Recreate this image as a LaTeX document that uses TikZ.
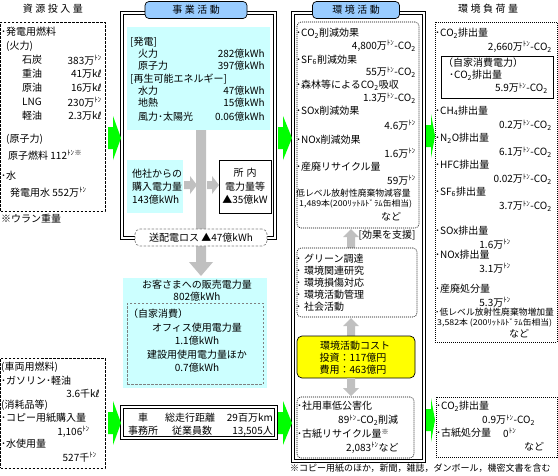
\documentclass[tikz,border=0pt]{standalone}
\usepackage{fontspec}
\setmainfont{Noto Sans CJK JP}
\newfontfamily\dvf{DejaVu Sans}
\newfontfamily\jpw[LetterSpace=25]{Noto Sans CJK JP}
\usetikzlibrary{fit}
\definecolor{lcyan}{HTML}{CCFFFF}
\definecolor{tabblue}{HTML}{99CCFF}
\definecolor{ggreen}{HTML}{00FF00}
\definecolor{garrow}{HTML}{C0C0C0}
\definecolor{ylw}{HTML}{FFFF00}
\newcommand\fs{\fontsize{10}{12}\selectfont}
\newcommand\fsm{\fontsize{9}{11}\selectfont}
\newcommand\fss{\fontsize{8.8}{10}\selectfont}
\newcommand\fsx{\fontsize{8}{9}\selectfont}
\newcommand\wide[1]{\scalebox{1.1}[1]{#1}}
\newcommand\tn{\textsuperscript{ﾄﾝ}}
\newcommand\kl{k{\dvf ℓ}}
\newcommand\cotwo{CO\textsubscript{2}}
\newcommand\garw[3]{\fill[ggreen] (#1,#3-11) -- (#1+5,#3-11) -- (#1+5,#3-22) -- (#2,#3) -- (#1+5,#3+22) -- (#1+5,#3+11) -- (#1,#3+11) -- cycle;}
\tikzset{
  t/.style={inner sep=0pt, font=\fs},
  tw/.style={t, anchor=west},
  te/.style={t, anchor=east},
  dbl/.style={draw=black, double=white, double distance=2pt, line width=0.6pt, inner sep=0pt},
  tab/.style={draw=black, line width=0.7pt, rounded corners=4pt, fill=tabblue, inner sep=0pt, font=\jpw\fs},
  lbox/.style={draw=black, line width=0.7pt, dash pattern=on 2.5pt off 1.5pt, inner sep=0pt},
  rbox/.style={draw=black, line width=0.6pt, dash pattern=on 1pt off 1pt, inner sep=0pt},
  ebox/.style={draw=black, line width=0.6pt, dash pattern=on 1pt off 1pt, rounded corners=4pt, inner sep=0pt},
  cbox/.style={fill=lcyan, inner sep=0pt},
  gdash/.style={draw=gray, line width=0.7pt, dash pattern=on 2.5pt off 1.5pt, inner sep=0pt},
  sbox/.style={draw=black, line width=0.7pt, inner sep=0pt},
  ybox/.style={draw=black, line width=0.7pt, fill=ylw, rounded corners=5pt, inner sep=0pt},
  garr/.style={fill=garrow},
}
\begin{document}
\begin{tikzpicture}[x=1pt,y=-1pt]
\useasboundingbox (0,0) rectangle (558,475);
% ================= left column =================
\node[t] (ttlA) at (53,9) {\jpw 資源投入量};
\node[lbox, fit={(0.5,22) (105,211)}] (lbA) {};
\node[tw] (a1) at (1,32) {･発電用燃料};
\node[tw] (a2) at (6,46) {(火力)};
\node[tw] (a3) at (22,60) {石炭};   \node[te] (a3v) at (102,60) {383万\tn};
\node[tw] (a4) at (22,74) {重油};   \node[te] (a4v) at (102,74) {41万\kl};
\node[tw] (a5) at (22,88) {原油};   \node[te] (a5v) at (102,88) {16万\kl};
\node[tw] (a6) at (22,102) {LNG};   \node[te] (a6v) at (102,102) {230万\tn};
\node[tw] (a7) at (22,116) {軽油};  \node[te] (a7v) at (102,116) {2.3万\kl};
\node[tw] (a8) at (6,139) {(原子力)};
\node[tw] (a9) at (8,155) {原子燃料 112\tn\textsuperscript{※}};
\node[tw] (a10) at (1,176) {･水};
\node[tw] (a11) at (10,192) {発電用水 552万\tn};
\node[tw] (a12) at (1,219) {※ウラン重量};
\node[lbox, fit={(0.5,358) (105,468)}] (lbB) {};
\node[tw] (b1) at (1,367) {(車両用燃料)};
\node[tw] (b2) at (1,381) {･ガソリン･軽油};
\node[te] (b3) at (100,394) {3.6千\kl};
\node[tw] (b4) at (1,405) {(消耗品等)};
\node[tw] (b5) at (1,418) {･コピー用紙購入量};
\node[te] (b6) at (90,432) {1,106\tn};
\node[tw] (b7) at (1,444) {･水使用量};
\node[te] (b8) at (97,457) {527千\tn};
% ================= business column =================
\node[dbl, fit={(122,13) (275,238)}] (frA) {};
\node[tab, minimum width=102pt, minimum height=17pt] (tabA) at (196,10) {事業活動};
\node[cbox, fit={(127,27) (270,130)}] (gen) {};
\node[tw] (g1) at (130,42) {[発電]};
\node[tw] (g2) at (138,54) {火力};     \node[te] (g2v) at (265,54) {282億kWh};
\node[tw] (g3) at (138,66) {原子力};   \node[te] (g3v) at (265,66) {397億kWh};
\node[tw] (g4) at (130,79) {[再生可能エネルギー]};
\node[tw] (g5) at (138,91) {水力};     \node[te] (g5v) at (265,91) {47億kWh};
\node[tw] (g6) at (138,103) {地熱};    \node[te] (g6v) at (265,103) {15億kWh};
\node[tw] (g7) at (138,117) {風力･太陽光}; \node[te] (g7v) at (265,117) {0.06億kWh};
\fill[garr] (196,130) -- (206,130) -- (206,262) -- (213,262) -- (201,276) -- (189,262) -- (196,262) -- cycle;
\node[cbox, fit={(127,160) (183,213)}] (buy) {};
\node[tw] (p1) at (132,174) {他社からの};
\node[tw] (p2) at (132,187) {購入電力量};
\node[tw] (p3) at (132,200) {143億kWh};
\fill[garr] (184,181) -- (190,181) -- (190,176) -- (197,185) -- (190,194) -- (190,189) -- (184,189) -- cycle;
\fill[garr] (207,181) -- (212,181) -- (212,176) -- (219,185) -- (212,194) -- (212,189) -- (207,189) -- cycle;
\node[sbox, fit={(219,160) (271,213)}] (own) {};
\node[t] (o1) at (245,173) {所\hspace{3pt}内};
\node[t] (o2) at (245,187) {電力量等};
\node[t] (o3) at (245,200) {▲35億kW};
\node[gdash, fill=white, rounded corners=5pt, minimum width=132pt, minimum height=17pt] (loss) at (201,237.5) {};
\node[t] (lossT) at (201,237.5) {送配電ロス ▲47億kWh};
\node[cbox, fit={(123,278) (267,388)}] (sale) {};
\node[t] (s1) at (197,285) {お客さまへの販売電力量};
\node[t] (s2) at (197,297) {802億kWh};
\node[gdash, fit={(127,303) (263,384)}] (selfc) {};
\node[tw] (s3) at (128,314) {（自家消費）};
\node[t] (s4) at (197,328) {オフィス使用電力量};
\node[t] (s5) at (197,341) {1.1億kWh};
\node[t] (s6) at (197,355) {建設用使用電力量ほか};
\node[t] (s7) at (197,368) {0.7億kWh};
\node[dbl, fit={(122,407) (276,438)}] (car) {};
\node[t] (c1) at (143,418) {車};
\node[tw] (c2) at (165,418) {総走行距離};
\node[te] (c3) at (273,418) {29百万km};
\node[tw] (c4) at (128,431) {事務所};
\node[tw] (c5) at (172,431) {従業員数};
\node[te] (c6) at (273,431) {13,505人};
% ================= environment activity column =================
\node[dbl, fit={(293,13) (424,461)}] (frB) {};
\node[tab, minimum width=87pt, minimum height=17pt] (tabB) at (356,10) {環境活動};
\node[ebox, fit={(297,22) (419,228)}] (eff) {};
\node[tw] (e1) at (296,33) {･\cotwo 削減効果};
\node[te] (e2) at (416,46) {4,800万\tn-\cotwo};
\node[tw] (e3) at (296,60) {･SF\textsubscript{6}削減効果};
\node[te] (e4) at (416,72) {55万\tn-\cotwo};
\node[tw] (e5) at (296,85) {･森林等による\cotwo 吸収};
\node[te] (e6) at (416,98) {1.3万\tn-\cotwo};
\node[tw] (e7) at (296,111) {･SOx削減効果};
\node[te] (e8) at (416,125) {4.6万\tn};
\node[tw] (e9) at (296,140) {･NOx削減効果};
\node[te] (e10) at (416,153) {1.6万\tn};
\node[tw] (e11) at (296,167) {･産廃リサイクル量};
\node[te] (e12) at (416,180) {59万\tn};
\node[tw, font=\fss] (e13) at (296,193) {低レベル放射性廃棄物減容量};
\node[tw, font=\fsx] (e14) at (299,204) {\wide{1,489本(200ﾘｯﾄﾙﾄﾞﾗﾑ缶相当)}};
\node[t] (e15) at (391,217) {など};
\node[t] (e16) at (387,235) {[効果を支援]};
\fill[garr] (347,248) -- (347,237) -- (343,237) -- (351,229) -- (359,237) -- (355,237) -- (355,248) -- cycle;
\node[ebox, fit={(297,248) (417,317)}] (act) {};
\node[tw] (v1) at (296,259) {･\hspace{3pt}グリーン調達};
\node[tw] (v2) at (296,271) {･\hspace{3pt}環境関連研究};
\node[tw] (v3) at (296,283) {･\hspace{3pt}環境損傷対応};
\node[tw] (v4) at (296,295) {･\hspace{3pt}環境活動管理};
\node[tw] (v5) at (296,307) {･\hspace{3pt}社会活動};
\fill[garr] (347,336) -- (347,326) -- (343,326) -- (351,318) -- (359,326) -- (355,326) -- (355,336) -- cycle;
\node[ybox, fit={(297,336) (415,378)}] (cost) {};
\node[t] (y1) at (355,346) {環境活動コスト};
\node[t] (y2) at (353,358) {投資：117億円};
\node[t] (y3) at (353,370) {費用：463億円};
\fill[garr] (347,378) -- (355,378) -- (355,388) -- (359,388) -- (351,396) -- (343,388) -- (347,388) -- cycle;
\node[ebox, fit={(297,397) (414,458)}] (res) {};
\node[tw] (r1) at (297,406) {･社用車低公害化};
\node[tw] (r2) at (338,420) {89\tn-\cotwo 削減};
\node[tw] (r3) at (297,434) {･古紙リサイクル量\textsuperscript{※}};
\node[tw] (r4) at (346,448) {2,083\tn など};
\node[tw, font=\fsm] (fn) at (290,468) {※コピー用紙のほか，新聞，雑誌，ダンボール，機密文書を含む};
% ================= environment load column =================
\node[t] (ttlC) at (488,9) {\jpw 環境負荷量};
\node[rbox, fit={(435,22) (557,342)}] (ld) {};
\node[tw] (d1) at (435,33) {･\cotwo 排出量};
\node[te] (d2) at (552,47) {2,660万\tn-\cotwo};
\node[sbox, fit={(441,56) (553,98)}] (selfl) {};
\node[tw] (d3) at (443,63) {（自家消費電力）};
\node[tw] (d4) at (449,75) {･\cotwo 排出量};
\node[te] (d5) at (548,88) {5.9万\tn-\cotwo};
\node[tw] (d6) at (435,111) {･CH\textsubscript{4}排出量};
\node[te] (d7) at (552,125) {0.2万\tn-\cotwo};
\node[tw] (d8) at (435,138) {･N\textsubscript{2}O排出量};
\node[te] (d9) at (552,152) {6.1万\tn-\cotwo};
\node[tw] (d10) at (435,165) {･HFC排出量};
\node[te] (d11) at (552,179) {0.02万\tn-\cotwo};
\node[tw] (d12) at (435,192) {･SF\textsubscript{6}排出量};
\node[te] (d13) at (552,206) {3.7万\tn-\cotwo};
\node[tw] (d14) at (435,231) {･SOx排出量};
\node[te] (d15) at (511,244) {1.6万\tn};
\node[tw] (d16) at (435,255) {･NOx排出量};
\node[te] (d17) at (511,268) {3.1万\tn};
\node[tw] (d18) at (435,289) {･産廃処分量};
\node[te] (d19) at (511,302) {5.3万\tn};
\node[tw, font=\fss] (d20) at (435,312) {･低レベル放射性廃棄物増加量};
\node[tw, font=\fsx] (d21) at (437,323) {\wide{3,582本 (200ﾘｯﾄﾙﾄﾞﾗﾑ缶相当)}};
\node[t] (d22) at (519,334) {など};
\node[rbox, fit={(436,397) (557,457)}] (ld2) {};
\node[tw] (h1) at (436,406) {･\cotwo 排出量};
\node[tw] (h2) at (482,420) {0.9万\tn-\cotwo};
\node[tw] (h3) at (436,433) {･古紙処分量};
\node[tw] (h4) at (503,433) {0\tn};
\node[t] (h5) at (534,447) {など};
% ================= green arrows =================
\garw{108}{121}{138}
\garw{278}{292}{138}
\garw{426}{435}{136}
\garw{108}{121}{423}
\garw{278}{292}{423}
\garw{426}{435}{420}
\end{tikzpicture}
\end{document}
